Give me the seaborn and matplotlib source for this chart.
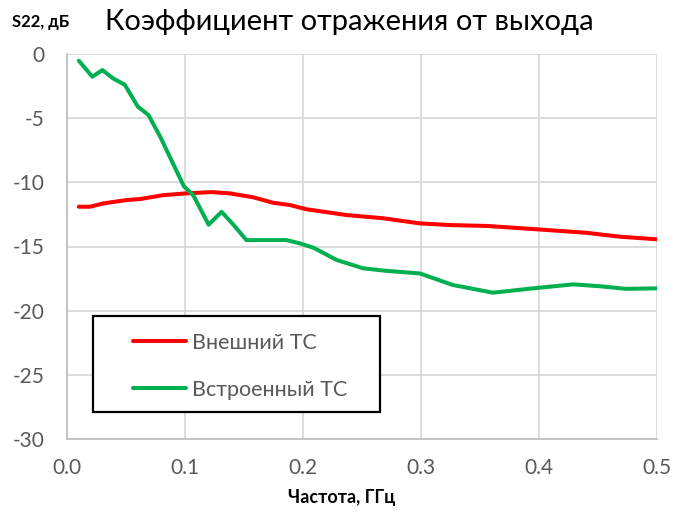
import numpy as np
import pandas as pd
import matplotlib
matplotlib.use("Agg")
import matplotlib.pyplot as plt
from matplotlib.patches import Rectangle
import seaborn as sns

# Data
ext_f = [0.010, 0.0195, 0.031, 0.0505, 0.062, 0.0816, 0.101, 0.1226, 0.138, 0.158,
         0.175, 0.189, 0.203, 0.237, 0.268, 0.299, 0.325, 0.356, 0.395, 0.440, 0.469, 0.500]
ext_s22 = [-11.9, -11.9, -11.64, -11.38, -11.3, -11.0, -10.86, -10.76, -10.86, -11.17,
           -11.6, -11.77, -12.1, -12.55, -12.8, -13.2, -13.33, -13.4, -13.64, -13.93, -14.24, -14.44]

int_f = [0.010, 0.0215, 0.030, 0.039, 0.049, 0.060, 0.069, 0.079, 0.099, 0.107, 0.120,
         0.131, 0.141, 0.152, 0.186, 0.197, 0.209, 0.2285, 0.251, 0.271, 0.299, 0.327,
         0.361, 0.395, 0.429, 0.452, 0.474, 0.500]
int_s22 = [-0.52, -1.77, -1.25, -1.9, -2.4, -4.1, -4.75, -6.45, -10.3, -11.0, -13.3,
           -12.3, -13.3, -14.5, -14.5, -14.75, -15.1, -16.05, -16.7, -16.9, -17.1, -18.0,
           -18.6, -18.26, -17.95, -18.1, -18.3, -18.26]

series_names = ["Внешний ТС", "Встроенный ТС"]
title = "Коэффициент отражения от выхода"
xlabel = "Частота, ГГц"
ylabel = "S22, дБ"
xticks = [0.0, 0.1, 0.2, 0.3, 0.4, 0.5]
yticks = [0, -5, -10, -15, -20, -25, -30]

df = pd.concat([
    pd.DataFrame({"f": ext_f, "s22": ext_s22, "series": series_names[0]}),
    pd.DataFrame({"f": int_f, "s22": int_s22, "series": series_names[1]}),
], ignore_index=True)

sns.set_theme(style="white")
plt.rcParams["font.family"] = ["Lato", "DejaVu Sans"]

fig = plt.figure(figsize=(6.86, 5.13), dpi=100)
ax = fig.add_axes([67/686, 1-439/513, 590/686, 385/513])

sns.lineplot(data=df, x="f", y="s22", hue="series",
             palette={series_names[0]: "#FF0000", series_names[1]: "#00B050"},
             linewidth=2.9, ax=ax, sort=True)

ax.set_xlim(0, 0.5)
ax.set_ylim(-30, 0)
ax.set_xticks(xticks)
ax.set_xticklabels([f"{t:.1f}" for t in xticks])
ax.set_yticks(yticks)
ax.set_yticklabels([str(t) for t in yticks])
ax.grid(True, color="#D9D9D9", linewidth=1.3)
ax.set_axisbelow(True)
for s in ax.spines.values():
    s.set_visible(False)
for side in ("left", "bottom"):
    ax.spines[side].set_visible(True)
    ax.spines[side].set_color("#BFBFBF")
    ax.spines[side].set_linewidth(1.3)
ax.tick_params(axis="both", labelsize=15, colors="#595959", length=0)
ax.tick_params(axis="y", pad=16)
ax.tick_params(axis="x", pad=14)
ax.set_xlabel("")
ax.set_ylabel("")

fig.text(342/686, 1-497/513, xlabel, ha="center", va="center",
         fontsize=13, fontweight="bold", color="#000000")
fig.text(12/686, 1-22/513, ylabel, ha="left", va="center",
         fontsize=12, fontweight="bold", color="#000000")
fig.text(349/686, 1-22/513, title, ha="center", va="center",
         fontsize=21, color="#000000")

# Legend box
ax.add_patch(Rectangle((26/590, 27/385), 287/590, 96/385, transform=ax.transAxes,
                       facecolor="white", edgecolor="black", linewidth=1.6,
                       zorder=5))
leg = ax.legend(loc="upper left", bbox_to_anchor=(66/590, 1 - (333 - 54)/385),
                borderaxespad=0, frameon=False, fontsize=15.5,
                handlelength=2.45, labelspacing=1.25, borderpad=0,
                handletextpad=0.3)
leg.set_zorder(6)
for t in leg.get_texts():
    t.set_color("#595959")
for h in leg.get_lines():
    h.set_linewidth(2.9)

fig.savefig("out.png", dpi=100)
